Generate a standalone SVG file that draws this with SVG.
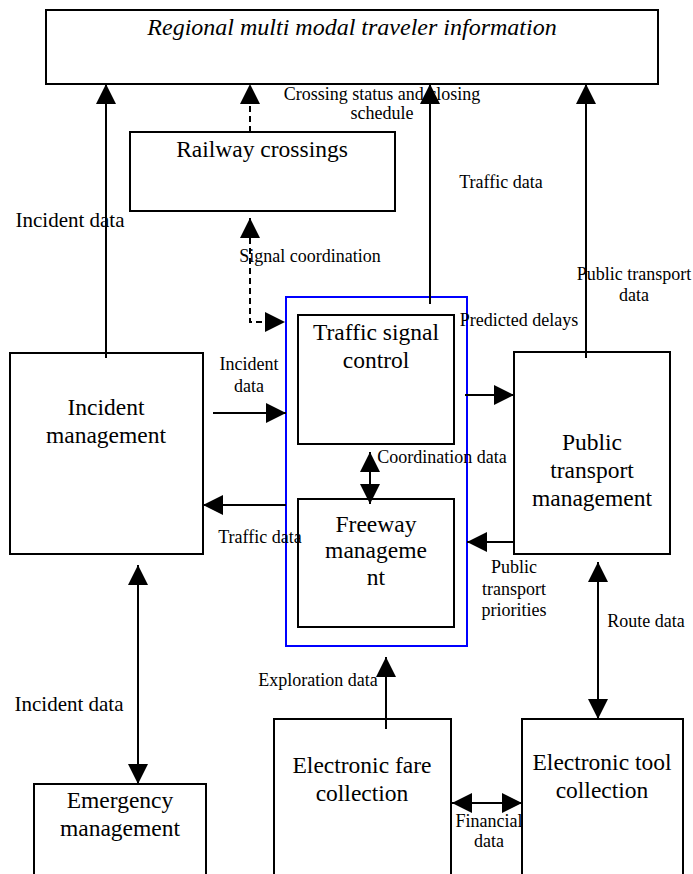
<svg xmlns="http://www.w3.org/2000/svg" width="693" height="874" viewBox="0 0 693 874">
<defs>
<marker id="ah" markerUnits="userSpaceOnUse" markerWidth="20" markerHeight="20" refX="20" refY="10" orient="auto-start-reverse" viewBox="0 0 20 20">
<path d="M0,0 L20,10 L0,20 z" fill="#000" stroke="none"/>
</marker>
<style>
.box{fill:#fff;stroke:#000;stroke-width:2}
.blue{fill:none;stroke:#0000ff;stroke-width:2}
.ln{fill:none;stroke:#000;stroke-width:2}
.dash{stroke-dasharray:6 4}
.nt{font-family:"Liberation Serif","Times New Roman",serif;font-size:23.5px;fill:#000;text-anchor:middle}
.el{font-family:"Liberation Serif","Times New Roman",serif;font-size:18px;fill:#000;text-anchor:middle}
.big{font-size:21px}
</style>
</defs>
<rect width="693" height="874" fill="#fff"/>

<g id="regional">
<rect class="box" x="46" y="10" width="612" height="74"/>
<text class="nt" x="352" y="35" font-style="italic" style="font-size:24px">Regional multi modal traveler information</text>
</g>

<g id="railway">
<rect class="box" x="130" y="132" width="265" height="79"/>
<text class="nt" x="262" y="157">Railway crossings</text>
</g>

<g id="group-blue">
<rect class="blue" x="286" y="297" width="181" height="349"/>
</g>

<g id="tsc">
<rect class="box" x="298" y="315" width="156" height="129"/>
<text class="nt" x="376" y="340">Traffic signal</text>
<text class="nt" x="376" y="368">control</text>
</g>

<g id="freeway">
<rect class="box" x="298" y="499" width="156" height="128"/>
<text class="nt" x="376" y="532">Freeway</text>
<text class="nt" x="376" y="558">manageme</text>
<text class="nt" x="376" y="585">nt</text>
</g>

<g id="incident">
<rect class="box" x="10" y="353" width="193" height="201"/>
<text class="nt" x="106" y="415">Incident</text>
<text class="nt" x="106" y="443">management</text>
</g>

<g id="public">
<rect class="box" x="514" y="352" width="156" height="202"/>
<text class="nt" x="592" y="450">Public</text>
<text class="nt" x="592" y="478">transport</text>
<text class="nt" x="592" y="506">management</text>
</g>

<g id="emergency">
<rect class="box" x="34" y="784" width="172" height="100"/>
<text class="nt" x="120" y="808">Emergency</text>
<text class="nt" x="120" y="836">management</text>
</g>

<g id="efc">
<rect class="box" x="274" y="719" width="177" height="165"/>
<text class="nt" x="362" y="773">Electronic fare</text>
<text class="nt" x="362" y="801">collection</text>
</g>

<g id="etc">
<rect class="box" x="522" y="719" width="161" height="165"/>
<text class="nt" x="602" y="770">Electronic tool</text>
<text class="nt" x="602" y="798">collection</text>
</g>

<g id="connectors">
<line class="ln" x1="106" y1="358" x2="106" y2="84" marker-end="url(#ah)"/>
<line class="ln dash" x1="250" y1="132" x2="250" y2="84" marker-end="url(#ah)"/>
<line class="ln" x1="430" y1="304" x2="430" y2="84" marker-end="url(#ah)"/>
<line class="ln" x1="586" y1="358" x2="586" y2="84" marker-end="url(#ah)"/>
<path class="ln dash" d="M250,218 L250,322 L285,322" marker-start="url(#ah)" marker-end="url(#ah)"/>
<line class="ln" x1="213" y1="413" x2="286" y2="413" marker-end="url(#ah)"/>
<line class="ln" x1="286" y1="505" x2="203" y2="505" marker-end="url(#ah)"/>
<line class="ln" x1="465" y1="395" x2="514" y2="395" marker-end="url(#ah)"/>
<line class="ln" x1="514" y1="542" x2="467" y2="542" marker-end="url(#ah)"/>
<line class="ln" x1="370" y1="452" x2="370" y2="504" marker-start="url(#ah)" marker-end="url(#ah)"/>
<line class="ln" x1="138" y1="565" x2="138" y2="784" marker-start="url(#ah)" marker-end="url(#ah)"/>
<line class="ln" x1="598" y1="562" x2="598" y2="719" marker-start="url(#ah)" marker-end="url(#ah)"/>
<line class="ln" x1="386" y1="729" x2="386" y2="657" marker-end="url(#ah)"/>
<line class="ln" x1="452" y1="803" x2="522" y2="803" marker-start="url(#ah)" marker-end="url(#ah)"/>

<text class="el" x="382" y="100">Crossing status and closing</text>
<text class="el" x="382" y="119">schedule</text>
<text class="el" x="501" y="188">Traffic data</text>
<text class="el big" x="70" y="227">Incident data</text>
<text class="el" x="310" y="262">Signal coordination</text>
<text class="el" x="634" y="280">Public transport</text>
<text class="el" x="634" y="301">data</text>
<text class="el" x="519" y="326">Predicted delays</text>
<text class="el" x="249" y="370">Incident</text>
<text class="el" x="249" y="392">data</text>
<text class="el" x="442" y="463">Coordination data</text>
<text class="el" x="260" y="543">Traffic data</text>
<text class="el" x="514" y="573">Public</text>
<text class="el" x="514" y="595">transport</text>
<text class="el" x="514" y="616">priorities</text>
<text class="el" x="646" y="627">Route data</text>
<text class="el" x="318" y="686">Exploration data</text>
<text class="el big" x="69" y="711">Incident data</text>
<text class="el" x="489" y="827">Financial</text>
<text class="el" x="489" y="847">data</text>
</g>
</svg>
